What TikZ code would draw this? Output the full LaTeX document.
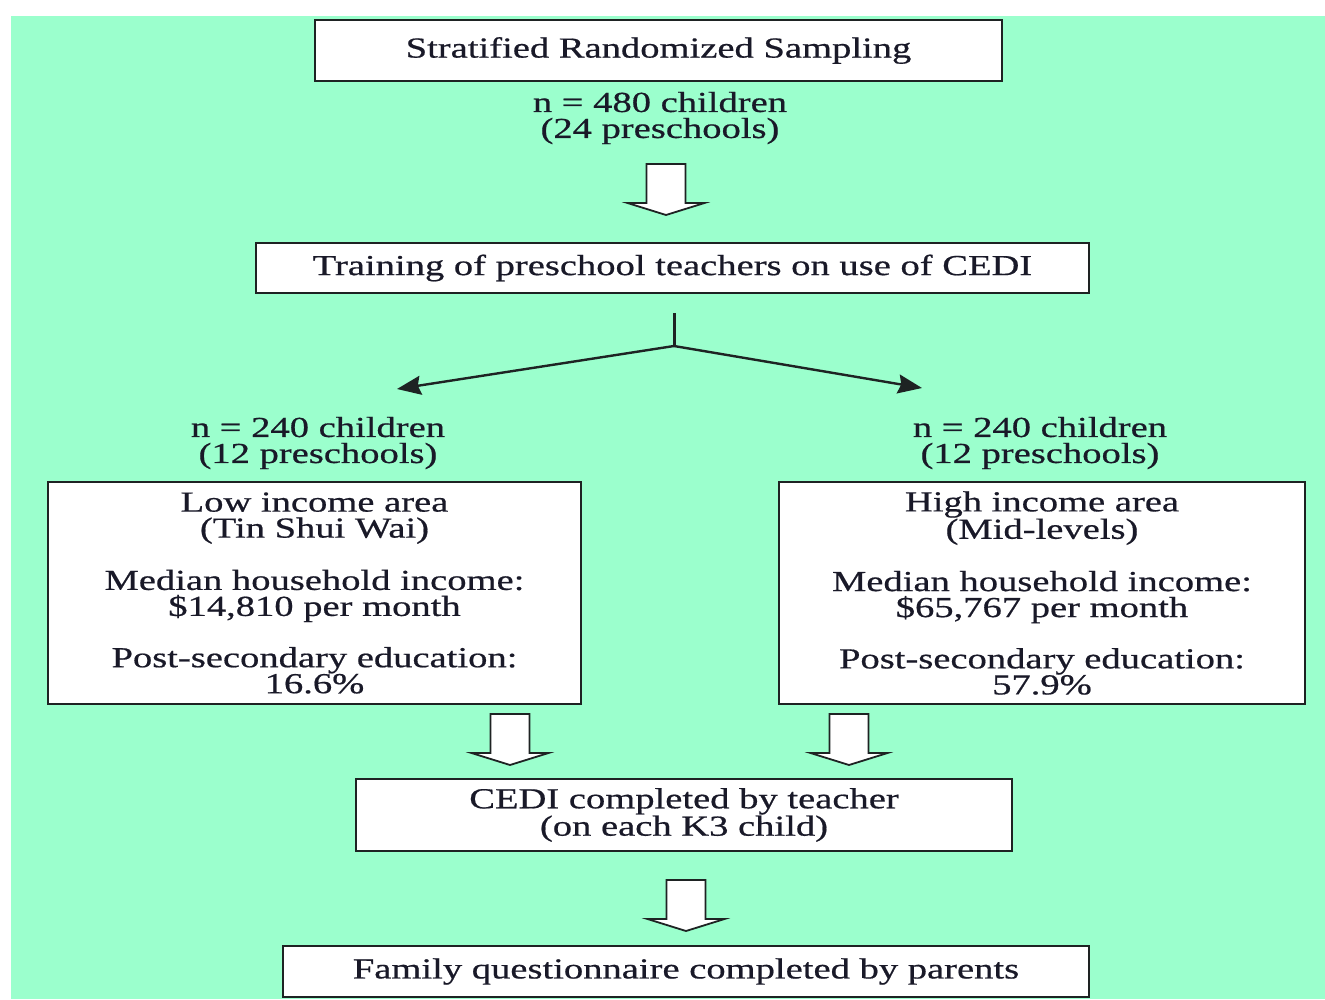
\documentclass[tikz,border=0pt]{standalone}
\usepackage{fontspec}
\setmainfont{Liberation Serif}[FakeStretch=1.33,FakeBold=0.6]
\usetikzlibrary{arrows.meta}
\definecolor{mint}{RGB}{155,255,205}
\definecolor{edge}{RGB}{30,35,35}
\definecolor{ink}{RGB}{25,25,40}
\tikzset{
  box/.style={draw=edge, line width=2pt, fill=white, inner sep=0pt, align=center, text=ink},
  lbl/.style={align=center, inner sep=0pt, text=ink},
  conn/.style={draw=edge, line width=2.4pt, -{Stealth[length=24pt,width=19pt,inset=3pt]}},
  hollowarrow/.pic={\draw[edge, line width=1.8pt, fill=white, line join=miter]
    (-19.5,0) -- (19.5,0) -- (19.5,39) -- (38.5,39) -- (0,51) -- (-38.5,39) -- (-19.5,39) -- cycle;}
}
\begin{document}
\begin{tikzpicture}[x=1pt,y=-1pt, font=\fontsize{29}{26}\selectfont]
\useasboundingbox (0,0) rectangle (1325,999);
\fill[mint] (11,16) rectangle (1325,999);

\node[box, minimum width=687pt, minimum height=61pt] (b1) at (658.5,50.5) {Stratified Randomized Sampling};
\node[lbl] (n480) at (660,118) {n = 480 children\\(24 preschools)};
\pic at (666,164) {hollowarrow};

\node[box, minimum width=833pt, minimum height=50pt] (b2) at (672.5,268) {Training of preschool teachers on use of CEDI};

\coordinate (jtop) at (674,313);
\coordinate (j) at (674,346);
\coordinate (lt) at (397,389);
\coordinate (rt) at (922,388);
\draw[edge, line width=3pt] (jtop) -- (j);
\draw[conn] (j) -- (lt);
\draw[conn] (j) -- (rt);

\node[lbl] (nl) at (318,443) {n = 240 children\\(12 preschools)};
\node[lbl] (nr) at (1040,443) {n = 240 children\\(12 preschools)};

\node[box, minimum width=533pt, minimum height=222pt] (low) at (314.5,593) {Low income area\\(Tin Shui Wai)\\[25pt]Median household income:\\\$14,810 per month\\[24pt]Post-secondary education:\\16.6\%};
\node[box, minimum width=526pt, minimum height=222pt] (high) at (1042,593) {High income area\\(Mid-levels)\\[25pt]Median household income:\\\$65,767 per month\\[24pt]Post-secondary education:\\57.9\%};

\pic at (510,714) {hollowarrow};
\pic at (849,714) {hollowarrow};

\node[box, minimum width=656pt, minimum height=72pt] (cedi) at (684,815) {CEDI completed by teacher\\(on each K3 child)};
\pic at (686,880) {hollowarrow};

\node[box, minimum width=806pt, minimum height=51pt] (fam) at (686,971.5) {Family questionnaire completed by parents};
\end{tikzpicture}
\end{document}
